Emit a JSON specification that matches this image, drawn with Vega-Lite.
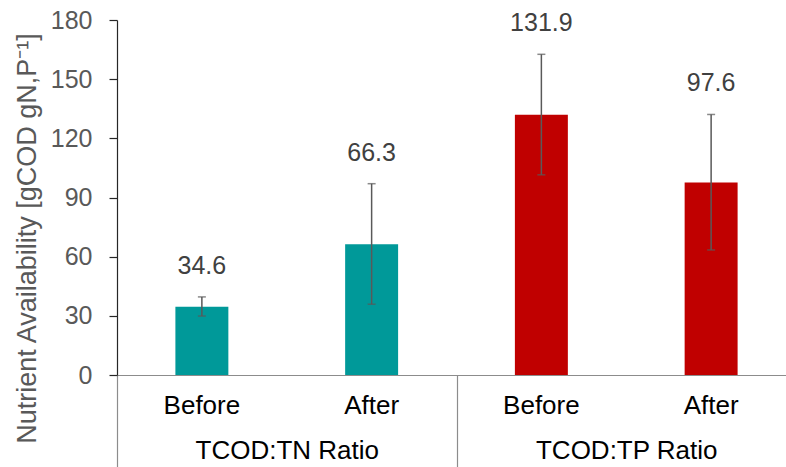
{
  "$schema": "https://vega.github.io/schema/vega-lite/v6.json",
  "width": 669,
  "height": 355,
  "autosize": {"type": "none"},
  "padding": {"left": 117, "top": 20, "right": 0, "bottom": 92},
  "background": "white",
  "config": {
    "view": {"stroke": null},
    "font": "Liberation Sans",
    "axis": {"grid": false}
  },
  "data": {
    "values": [
      {"group": "TCOD:TN Ratio", "period": "Before", "key": "TN|Before", "value": 34.6, "lo": 29.9, "hi": 39.6},
      {"group": "TCOD:TN Ratio", "period": "After", "key": "TN|After", "value": 66.3, "lo": 35.9, "hi": 97.0},
      {"group": "TCOD:TP Ratio", "period": "Before", "key": "TP|Before", "value": 131.9, "lo": 101.5, "hi": 162.6},
      {"group": "TCOD:TP Ratio", "period": "After", "key": "TP|After", "value": 97.6, "lo": 63.4, "hi": 132.1}
    ]
  },
  "layer": [
    {
      "layer": [
        {
          "mark": {"type": "bar"},
          "encoding": {
            "color": {
              "field": "group", "type": "nominal", "legend": null,
              "scale": {"domain": ["TCOD:TN Ratio", "TCOD:TP Ratio"], "range": ["#009999", "#C00000"]}
            }
          }
        },
        {
          "mark": {"type": "rule", "color": "#595959", "strokeWidth": 1.5},
          "encoding": {"y": {"field": "lo", "type": "quantitative"}, "y2": {"field": "hi"}}
        },
        {
          "mark": {"type": "tick", "orient": "horizontal", "color": "#595959", "size": 8, "thickness": 1.5},
          "encoding": {"y": {"field": "lo", "type": "quantitative"}}
        },
        {
          "mark": {"type": "tick", "orient": "horizontal", "color": "#595959", "size": 8, "thickness": 1.5},
          "encoding": {"y": {"field": "hi", "type": "quantitative"}}
        },
        {
          "mark": {"type": "text", "dy": -31, "baseline": "middle", "fontSize": 25, "color": "#404040"},
          "encoding": {
            "y": {"field": "hi", "type": "quantitative"},
            "text": {"field": "value", "type": "quantitative", "format": ".1f"}
          }
        }
      ],
      "encoding": {
        "x": {
          "field": "key", "type": "nominal", "sort": null,
          "scale": {"range": [0, 679], "paddingInner": 0.688, "paddingOuter": 0.344},
          "axis": {
            "title": null, "orient": "bottom",
            "labelExpr": "split(datum.label, '|')[1]",
            "labelAngle": 0, "labelFontSize": 26, "labelColor": "#000000",
            "labelPadding": 17, "ticks": false, "labelLimit": 0,
            "domainColor": "#8c8c8c", "domainWidth": 1.2
          }
        },
        "y": {
          "field": "value", "type": "quantitative",
          "scale": {"domain": [0, 180], "nice": false, "zero": true},
          "axis": {
            "values": [0, 30, 60, 90, 120, 150, 180],
            "title": "Nutrient Availability [gCOD gN,P⁻¹]",
            "titleFontSize": 27, "titleFontWeight": "normal", "titleColor": "#595959",
            "titleY": 218, "titlePadding": 9, "titleLimit": 0,
            "labelFontSize": 25, "labelColor": "#595959", "labelPadding": 17,
            "tickSize": 8, "tickColor": "#262626", "tickWidth": 1.2,
            "domainColor": "#262626", "domainWidth": 1.2
          }
        }
      }
    },
    {
      "mark": {"type": "point", "opacity": 0},
      "encoding": {
        "x": {
          "field": "group", "type": "nominal",
          "scale": {"range": [0, 679]},
          "axis": {
            "title": null, "orient": "bottom",
            "labelAngle": 0, "labelFontSize": 26, "labelColor": "#000000", "labelLimit": 0,
            "tickBand": "extent", "tickSize": 92, "tickColor": "#8c8c8c", "tickWidth": 1.2,
            "labelPadding": -30, "domain": false
          }
        },
        "y": {"datum": 0, "type": "quantitative"}
      }
    }
  ],
  "resolve": {"scale": {"x": "independent"}, "axis": {"x": "independent"}}
}
